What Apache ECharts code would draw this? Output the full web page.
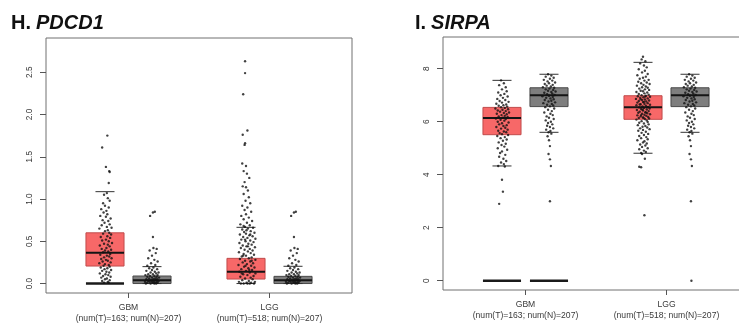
<!DOCTYPE html>
<html>
<head>
<meta charset="utf-8">
<script src="https://cdn.jsdelivr.net/npm/echarts@6/dist/echarts.min.js"></script>
<style>
  html, body { margin: 0; padding: 0; background: #fff; }
  #chart { width: 739px; height: 323px; overflow: hidden; }
</style>
</head>
<body>
<div id="chart"></div>
<script>
// Two GEPIA-style box plots: PDCD1 (H) and SIRPA (I), tumor (red) vs normal (grey)
const groupNames = ['GBM', 'LGG'];
const groupCounts = ['(num(T)=163; num(N)=207)', '(num(T)=518; num(N)=207)'];
const groupTicks = [1.5, 4.5];
const boxPos = [1, 2, 4, 5]; // GBM T, GBM N, LGG T, LGG N

const pdcd1Ticks = [0, 0.5, 1, 1.5, 2, 2.5];
const sirpaTicks = [0, 2, 4, 6, 8];

// [lower staple, q1, median, q3, upper staple]
const pdcd1Stats = [
  [0.0, 0.207, 0.364, 0.60, 1.087],
  [0.0, 0.0, 0.04, 0.089, 0.20],
  [0.0, 0.053, 0.14, 0.298, 0.665],
  [0.0, 0.0, 0.04, 0.085, 0.204]
];
const sirpaStats = [
  [4.33, 5.51, 6.14, 6.54, 7.56],
  [5.6, 6.57, 7.0, 7.28, 7.79],
  [4.81, 6.09, 6.55, 6.98, 8.24],
  [5.6, 6.57, 7.0, 7.28, 7.79]
];
// thick bars at zero (box positions)
const pdcd1ZeroBars = [1];
const sirpaZeroBars = [1, 2];

// jittered samples: [x offset from box, value]
const pdGbmT = [
  [0.05,1.75],[-0.06,1.61],[0.02,1.38],[0.09,1.33],[0.1,1.32],[0.08,1.19],[0.04,1.07],[-0.02,1.05],[0.06,1.01],[0.1,0.98],
  [-0.04,0.95],[0.0,0.92],[0.08,0.9],[-0.08,0.88],[0.03,0.86],[-0.03,0.84],[0.05,0.82],[-0.1,0.8],[0.02,0.79],[0.12,0.77],
  [-0.05,0.75],[0.07,0.74],[-0.01,0.72],[0.1,0.7],[-0.07,0.69],[0.04,0.67],[0.14,0.66],[-0.12,0.65],[0.06,0.63],[0.0,0.62],
  [0.09,0.6],[-0.04,0.59],[0.13,0.58],[0.05,0.56],[-0.09,0.55],[0.11,0.54],[0.02,0.52],[-0.06,0.51],[0.08,0.5],[0.15,0.48],
  [-0.02,0.47],[0.06,0.46],[-0.11,0.45],[0.1,0.44],[0.03,0.42],[-0.07,0.41],[0.13,0.4],[0.0,0.39],[0.07,0.38],[-0.04,0.37],
  [0.11,0.35],[-0.1,0.34],[0.04,0.33],[0.09,0.32],[-0.02,0.31],[0.14,0.3],[-0.08,0.29],[0.02,0.28],[0.06,0.27],[-0.05,0.26],
  [0.12,0.25],[-0.12,0.24],[0.0,0.23],[0.08,0.22],[-0.03,0.21],[0.1,0.2],[-0.09,0.19],[0.05,0.18],[-0.01,0.17],[0.13,0.16],
  [-0.06,0.15],[0.03,0.14],[0.09,0.13],[-0.11,0.12],[0.01,0.11],[0.07,0.1],[-0.04,0.09],[0.12,0.08],[-0.08,0.07],[0.04,0.06],
  [0.0,0.05],[0.1,0.04],[-0.06,0.03],[0.06,0.02],[-0.02,0.01],[0.08,0.01]
];
const pdNorm = [
  [0.06,0.85],[0.02,0.84],[-0.04,0.8],[0.02,0.55],[0.03,0.42],[0.1,0.41],[-0.05,0.39],[0.08,0.36],[0.0,0.33],[-0.08,0.3],
  [0.05,0.28],[0.12,0.26],[-0.02,0.24],[0.07,0.22],[-0.1,0.21],[0.03,0.19],[-0.06,0.18],[0.11,0.17],[0.0,0.16],[-0.12,0.15],
  [0.06,0.14],[0.14,0.13],[-0.03,0.13],[0.09,0.12],[-0.08,0.11],[0.02,0.11],[0.12,0.1],[-0.14,0.1],[0.05,0.09],[-0.04,0.09],
  [0.1,0.08],[-0.1,0.08],[0.0,0.07],[0.15,0.07],[-0.06,0.06],[0.07,0.06],[0.03,0.05],[-0.12,0.05],[0.11,0.05],[-0.02,0.04],
  [0.08,0.04],[-0.08,0.03],[0.04,0.03],[0.14,0.03],[-0.15,0.02],[0.0,0.02],[0.1,0.02],[-0.05,0.02],[0.06,0.01],[-0.1,0.01],
  [0.12,0.01],[0.02,0.01],[-0.03,0.0],[0.09,0.0],[-0.13,0.0],[0.05,0.0]
];
const pdLggT = [
  [-0.02,2.63],[-0.02,2.49],[-0.06,2.24],[0.03,1.81],[-0.07,1.76],[-0.02,1.66],[-0.03,1.64],[-0.08,1.42],[0.0,1.39],[-0.05,1.33],
  [0.02,1.3],[0.07,1.25],[-0.03,1.2],[-0.07,1.15],[0.0,1.14],[0.04,1.1],[-0.05,1.06],[0.06,1.02],[-0.01,0.98],[0.09,0.95],
  [-0.08,0.92],[0.03,0.9],[-0.03,0.87],[0.11,0.85],[0.0,0.82],[-0.1,0.8],[0.06,0.78],[-0.05,0.76],[0.13,0.74],[0.02,0.72],
  [-0.12,0.7],[0.08,0.69],[-0.02,0.67],[0.15,0.66],[0.04,0.65],[-0.08,0.64],[0.1,0.62],[-0.04,0.61],[0.18,0.6],[0.0,0.59],
  [-0.13,0.58],[0.07,0.57],[0.14,0.56],[-0.06,0.55],[0.03,0.54],[0.2,0.53],[-0.1,0.52],[0.09,0.51],[-0.01,0.5],[0.16,0.49],
  [-0.14,0.48],[0.05,0.47],[0.12,0.46],[-0.07,0.45],[0.01,0.44],[0.19,0.43],[-0.11,0.42],[0.08,0.41],[-0.03,0.4],[0.14,0.39],
  [0.04,0.38],[-0.15,0.37],[0.1,0.36],[-0.05,0.35],[0.17,0.34],[0.0,0.33],[-0.09,0.32],[0.12,0.31],[0.06,0.3],[-0.13,0.29],
  [0.2,0.28],[-0.02,0.27],[0.09,0.26],[-0.07,0.25],[0.15,0.24],[0.02,0.23],[-0.16,0.22],[0.11,0.21],[-0.04,0.2],[0.18,0.19],
  [0.05,0.18],[-0.1,0.17],[0.13,0.16],[0.0,0.15],[-0.14,0.14],[0.08,0.13],[0.2,0.12],[-0.06,0.11],[0.03,0.1],[0.16,0.09],
  [-0.12,0.08],[0.1,0.07],[-0.02,0.06],[0.14,0.05],[-0.08,0.04],[0.06,0.03],[0.19,0.02],[-0.15,0.02],[0.01,0.01],[0.11,0.01],
  [-0.05,0.0],[0.08,0.0],[-0.11,0.0],[0.17,0.0],[0.03,0.0],[-0.09,0.12],[0.07,0.16],[-0.01,0.21],[0.12,0.27],[-0.06,0.33],
  [0.04,0.44],[-0.02,0.52],[0.09,0.58],[0.01,0.63],[-0.05,0.68]
];
const ssGbmT = [
  [-0.02,7.56],[0.04,7.45],[-0.06,7.38],[0.08,7.3],[0.0,7.22],[0.1,7.15],[-0.08,7.1],[0.05,7.05],[-0.03,7.0],[0.12,6.95],
  [0.02,6.9],[-0.1,6.86],[0.07,6.82],[-0.05,6.78],[0.14,6.75],[0.0,6.72],[-0.12,6.68],[0.09,6.65],[0.03,6.62],[-0.07,6.6],
  [0.11,6.57],[-0.02,6.55],[0.06,6.52],[-0.14,6.5],[0.13,6.47],[0.01,6.45],[-0.09,6.42],[0.08,6.4],[-0.04,6.38],[0.15,6.35],
  [0.04,6.33],[-0.11,6.3],[0.1,6.28],[-0.01,6.25],[0.06,6.22],[-0.07,6.2],[0.12,6.18],[0.02,6.15],[-0.13,6.12],[0.08,6.1],
  [-0.03,6.07],[0.05,6.04],[-0.09,6.0],[0.14,5.97],[0.0,5.94],[-0.06,5.9],[0.1,5.87],[0.03,5.84],[-0.12,5.8],[0.07,5.77],
  [-0.02,5.74],[0.12,5.7],[-0.08,5.66],[0.04,5.63],[0.09,5.6],[-0.05,5.57],[0.0,5.53],[0.13,5.5],[-0.1,5.46],[0.06,5.42],
  [-0.03,5.38],[0.1,5.33],[0.02,5.28],[-0.07,5.22],[0.08,5.17],[-0.01,5.12],[0.05,5.06],[-0.09,5.0],[0.11,4.94],[0.0,4.88],
  [-0.04,4.82],[0.07,4.75],[-0.06,4.68],[0.03,4.6],[0.09,4.52],[-0.02,4.46],[0.04,4.4],[-0.08,4.33],[0.06,4.31],[0.0,3.81],
  [0.02,3.36],[-0.06,2.9]
];
const ssNorm = [
  [-0.02,7.79],[0.05,7.74],[-0.07,7.7],[0.1,7.66],[0.02,7.62],[-0.11,7.58],[0.07,7.55],[-0.03,7.52],[0.13,7.48],[0.0,7.45],
  [-0.09,7.42],[0.08,7.39],[-0.05,7.36],[0.04,7.33],[-0.13,7.3],[0.11,7.28],[0.01,7.25],[-0.07,7.22],[0.09,7.2],[-0.02,7.17],
  [0.14,7.14],[0.05,7.12],[-0.1,7.09],[0.07,7.06],[-0.04,7.04],[0.12,7.01],[0.0,6.98],[-0.14,6.96],[0.08,6.93],[-0.06,6.9],
  [0.03,6.88],[0.1,6.85],[-0.09,6.82],[0.05,6.79],[-0.01,6.76],[0.13,6.73],[-0.12,6.7],[0.06,6.67],[-0.04,6.64],[0.09,6.61],
  [0.02,6.58],[-0.08,6.55],[0.11,6.5],[-0.02,6.45],[0.06,6.4],[-0.1,6.35],[0.03,6.3],[0.08,6.25],[-0.05,6.2],[0.0,6.15],
  [0.1,6.1],[-0.07,6.05],[0.04,6.0],[-0.02,5.95],[0.07,5.9],[-0.04,5.85],[0.02,5.8],[0.09,5.75],[-0.06,5.7],[0.03,5.65],
  [-0.01,5.6],[0.05,5.55],[-0.03,5.45],[0.0,5.3],[0.02,5.08],[-0.01,4.78],[0.02,4.58],[0.04,4.33],[0.02,3.0]
];
const ssLggT = [
  [0.0,8.45],[-0.03,8.35],[0.05,8.28],[-0.06,8.2],[0.02,8.12],[0.08,8.05],[-0.09,7.98],[0.04,7.92],[-0.02,7.86],[0.1,7.8],
  [-0.12,7.75],[0.06,7.7],[0.0,7.66],[-0.07,7.62],[0.12,7.58],[0.03,7.55],[-0.1,7.51],[0.08,7.48],[-0.04,7.45],[0.14,7.42],
  [0.01,7.39],[-0.13,7.36],[0.06,7.33],[-0.02,7.3],[0.1,7.28],[-0.08,7.25],[0.04,7.22],[0.13,7.2],[-0.05,7.17],[0.0,7.15],
  [-0.14,7.12],[0.09,7.1],[0.03,7.07],[-0.09,7.05],[0.12,7.02],[-0.03,7.0],[0.06,6.98],[-0.11,6.96],[0.15,6.94],[0.01,6.92],
  [-0.06,6.9],[0.1,6.88],[-0.15,6.86],[0.04,6.84],[-0.02,6.82],[0.13,6.8],[-0.09,6.78],[0.07,6.76],[0.0,6.74],[-0.12,6.72],
  [0.1,6.7],[0.03,6.68],[-0.05,6.66],[0.15,6.64],[-0.14,6.62],[0.06,6.6],[-0.01,6.58],[0.11,6.56],[-0.08,6.54],[0.02,6.52],
  [0.14,6.5],[-0.04,6.48],[0.08,6.46],[-0.13,6.44],[0.0,6.42],[0.12,6.4],[-0.07,6.38],[0.05,6.36],[-0.1,6.34],[0.09,6.32],
  [-0.02,6.3],[0.15,6.28],[0.03,6.26],[-0.12,6.24],[0.07,6.22],[-0.05,6.2],[0.11,6.18],[0.0,6.16],[-0.09,6.14],[0.13,6.12],
  [0.04,6.1],[-0.14,6.08],[0.08,6.05],[-0.03,6.02],[0.1,5.99],[-0.08,5.96],[0.02,5.93],[0.12,5.9],[-0.11,5.87],[0.05,5.84],
  [-0.01,5.81],[0.09,5.78],[-0.06,5.75],[0.14,5.72],[0.0,5.69],[-0.1,5.66],[0.06,5.62],[-0.03,5.58],[0.11,5.54],[0.02,5.5],
  [-0.08,5.46],[0.07,5.42],[-0.04,5.38],[0.1,5.34],[-0.12,5.3],[0.03,5.26],[0.0,5.22],[0.08,5.18],[-0.06,5.14],[0.05,5.1],
  [-0.02,5.05],[0.1,5.0],[-0.08,4.96],[0.02,4.91],[0.06,4.86],[-0.04,4.82],[-0.02,4.78],[0.04,4.6],[-0.08,4.3],[-0.04,4.28],
  [0.03,2.47],[0.05,6.95],[-0.05,6.85],[0.02,6.75],[-0.07,6.65],[0.09,6.55],[-0.01,6.45],[0.06,6.35],[-0.04,6.25],[0.01,6.15]
];
const ssLggNExtra = [[0.03, 0.0]];

const pdcd1Points = [pdGbmT, pdNorm, pdLggT, pdNorm];
const sirpaPoints = [ssGbmT, ssNorm, ssLggT, ssNorm.concat(ssLggNExtra)];

const FONT = "'Liberation Sans', Arial, Helvetica, sans-serif";
const BOX_W = 0.81;
const TUMOR = { fill: '#f76868', stroke: '#c04c4c' };
const NORMAL = { fill: '#7e7e7e', stroke: '#4a4a4a' };

function boxData(stats) {
  return stats.map((s, i) => [boxPos[i]].concat(s));
}
function pointData(groups) {
  const out = [];
  groups.forEach((arr, i) => arr.forEach(p => out.push([boxPos[i] + p[0], p[1]])));
  return out;
}

function renderBox(params, api) {
  const x = api.value(0);
  const w = api.size([BOX_W, 0])[0];
  const lo = api.coord([x, api.value(1)]);
  const q1 = api.coord([x, api.value(2)]);
  const md = api.coord([x, api.value(3)]);
  const q3 = api.coord([x, api.value(4)]);
  const hi = api.coord([x, api.value(5)]);
  const c = params.dataIndex % 2 === 0 ? TUMOR : NORMAL;
  const cx = lo[0];
  return {
    type: 'group',
    children: [
      { type: 'rect', shape: { x: cx - w / 2, y: q3[1], width: w, height: Math.max(q1[1] - q3[1], 1) },
        style: { fill: c.fill, stroke: c.stroke, lineWidth: 1 } },
      { type: 'line', shape: { x1: cx - w / 2, y1: md[1], x2: cx + w / 2, y2: md[1] },
        style: { stroke: '#151515', lineWidth: 2 } },
      { type: 'line', shape: { x1: cx - w / 4, y1: hi[1], x2: cx + w / 4, y2: hi[1] },
        style: { stroke: '#333', lineWidth: 1 } },
      { type: 'line', shape: { x1: cx - w / 4, y1: lo[1], x2: cx + w / 4, y2: lo[1] },
        style: { stroke: '#333', lineWidth: 1 } }
    ]
  };
}

function renderZero(params, api) {
  const x = api.value(0);
  const w = api.size([BOX_W, 0])[0];
  const p = api.coord([x, api.value(1)]);
  return { type: 'line', shape: { x1: p[0] - w / 2, y1: p[1], x2: p[0] + w / 2, y2: p[1] },
    style: { stroke: '#1a1a1a', lineWidth: 2.5 } };
}

function makeX(gi) {
  return {
    type: 'value', gridIndex: gi, min: -0.255, max: 6.255,
    splitLine: { show: false },
    axisLine: { show: false, onZero: false },
    axisTick: { show: true, customValues: groupTicks, length: 5, lineStyle: { color: '#555' } },
    axisLabel: {
      customValues: groupTicks, margin: 9, fontSize: 8.6, lineHeight: 11,
      color: '#3a3a3a', fontFamily: FONT,
      formatter: v => {
        const i = v < 3 ? 0 : 1;
        return groupNames[i] + '\n' + groupCounts[i];
      }
    }
  };
}
function makeY(gi, min, max, ticks, fmt) {
  return {
    type: 'value', gridIndex: gi, min: min, max: max,
    splitLine: { show: false },
    axisLine: { show: false, onZero: false },
    axisTick: { show: true, customValues: ticks, length: 6, lineStyle: { color: '#555' } },
    axisLabel: { customValues: ticks, rotate: 90, margin: 12, fontSize: 8.2, color: '#333',
      fontFamily: FONT, formatter: fmt }
  };
}

const chart = echarts.init(document.getElementById('chart'), null, { renderer: 'canvas' });

const titleRich = {
  b: { fontSize: 20, fontWeight: 'bold', fontFamily: FONT, color: '#111' },
  i: { fontSize: 20, fontStyle: 'italic', fontFamily: FONT, color: '#111' }
};

chart.setOption({
  backgroundColor: '#fff',
  animation: false,
  title: [
    { text: '{b|H.} {i|PDCD1}', left: 11, top: 13, padding: 0, textStyle: { rich: titleRich } },
    { text: '{b|I.} {i|SIRPA}', left: 415, top: 13, padding: 0, textStyle: { rich: titleRich } }
  ],
  grid: [
    { left: 46, top: 38, width: 306, height: 255, show: true, borderColor: '#707070', borderWidth: 1,
      outerBoundsMode: 'none' },
    { left: 443, top: 37, width: 306, height: 253, show: true, borderColor: '#707070', borderWidth: 1,
      outerBoundsMode: 'none' }
  ],
  xAxis: [makeX(0), makeX(1)],
  yAxis: [
    makeY(0, -0.112, 2.905, pdcd1Ticks, v => v.toFixed(1)),
    makeY(1, -0.35, 9.196, sirpaTicks, v => String(v))
  ],
  series: [
    { type: 'custom', xAxisIndex: 0, yAxisIndex: 0, renderItem: renderBox,
      data: boxData(pdcd1Stats), encode: { x: 0, y: [1, 2, 3, 4, 5] }, z: 2 },
    { type: 'custom', xAxisIndex: 1, yAxisIndex: 1, renderItem: renderBox,
      data: boxData(sirpaStats), encode: { x: 0, y: [1, 2, 3, 4, 5] }, z: 2 },
    { type: 'custom', xAxisIndex: 0, yAxisIndex: 0, renderItem: renderZero,
      data: pdcd1ZeroBars.map(p => [p, 0]), encode: { x: 0, y: 1 }, z: 3 },
    { type: 'custom', xAxisIndex: 1, yAxisIndex: 1, renderItem: renderZero,
      data: sirpaZeroBars.map(p => [p, 0]), encode: { x: 0, y: 1 }, z: 3 },
    { type: 'scatter', xAxisIndex: 0, yAxisIndex: 0, data: pointData(pdcd1Points),
      symbolSize: 2.4, itemStyle: { color: '#111' }, z: 4, silent: true },
    { type: 'scatter', xAxisIndex: 1, yAxisIndex: 1, data: pointData(sirpaPoints),
      symbolSize: 2.4, itemStyle: { color: '#111' }, z: 4, silent: true }
  ]
});

window.addEventListener('resize', () => chart.resize());
</script>
</body>
</html>
